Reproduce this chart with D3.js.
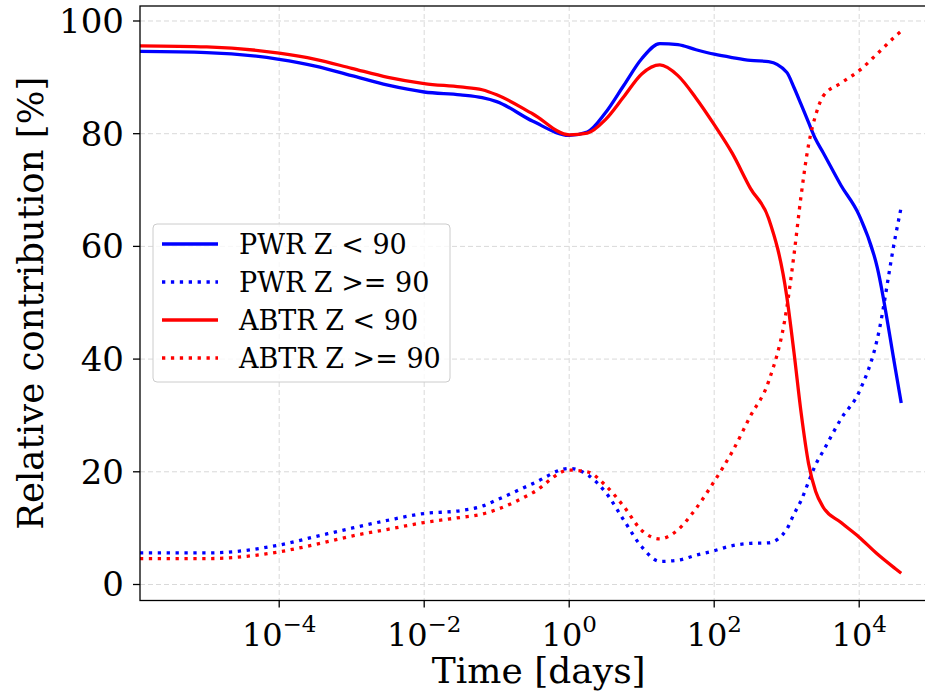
<!DOCTYPE html>
<html lang="en">
  <head>
    <meta charset="UTF-8" />
    <script src="https://cdnjs.cloudflare.com/ajax/libs/d3/7.8.5/d3.min.js"></script>
    <title>Relative contribution</title>
    <style>
      body {
        margin: 0;
        background: white;
      }
      text {
        font-family: "DejaVu Serif", serif;
        fill: #000;
      }
      .grid line {
        stroke: #d9d9d9;
        stroke-width: 1;
        stroke-dasharray: 5, 3;
      }
      .series {
        fill: none;
        stroke-width: 3.3;
      }
      .dotted {
        stroke-dasharray: 3.3, 5.6;
      }
    </style>
  </head>
  <body>
    <script>
      // time in days (log axis)
      const days = [
        1.2e-6, 1e-5, 1e-4, 3.16e-4, 1e-3, 3.16e-3, 1e-2, 3.16e-2, 6.3e-2, 0.1,
        0.316, 1, 1.78, 3.16, 5.62, 10, 17.8, 31.6, 56.2, 100, 178, 316, 562,
        1000, 1260, 1580, 2000, 2510, 3160, 5620, 1e4, 1.78e4, 3.16e4, 3.8e4,
      ];
      const pwrLow = [
        94.6, 94.4, 93.2, 92.0, 90.3, 88.6, 87.4, 86.9, 86.4, 85.7, 82.2, 79.7,
        80.3, 83.7, 88.5, 93.3, 96.0, 95.8, 94.9, 94.1, 93.5, 93.0, 92.8, 90.9,
        88.2, 85.2, 82.0, 79.0, 76.7, 70.8, 65.5, 56.2, 38.2, 32.2,
      ];
      const pwrHigh = [
        5.6, 5.6, 7.0, 8.5, 10.0, 11.4, 12.6, 13.1, 13.9, 15.0, 17.9, 20.6,
        19.5, 16.4, 11.5, 6.7, 4.1, 4.3, 5.2, 6.0, 6.9, 7.3, 7.4, 9.8, 12.5,
        14.9, 18.2, 21.3, 23.6, 29.4, 34.2, 43.6, 61.8, 67.0,
      ];
      const abtrLow = [
        95.6, 95.4, 94.3, 93.2, 91.6, 90.0, 88.9, 88.3, 87.8, 86.9, 83.5, 79.8,
        80.1, 82.5, 86.5, 90.6, 92.2, 90.3, 86.3, 81.6, 76.5, 70.3, 65.0, 51.2,
        41.2, 30.5, 21.5, 16.5, 13.8, 11.0, 8.4, 5.4, 2.8, 2.0,
      ];
      const abtrHigh = [
        4.6, 4.6, 5.8, 7.1, 8.6, 9.8, 11.0, 11.9, 12.5, 13.3, 16.3, 20.3, 20.0,
        17.6, 13.9, 9.6, 8.1, 9.7, 13.5, 18.3, 23.6, 29.9, 36.0, 49.0, 58.5,
        69.0, 78.0, 83.3, 86.6, 89.0, 91.2, 94.2, 97.3, 98.2,
      ];
      const yTicks = [0, 20, 40, 60, 80, 100];
      const xTicks = [1e-4, 1e-2, 1, 1e2, 1e4];
      const xTickExp = ["\u22124", "\u22122", "0", "2", "4"];

      const series = [
        { name: "PWR Z < 90", values: pwrLow, color: "#0000ff", dotted: false },
        { name: "PWR Z >= 90", values: pwrHigh, color: "#0000ff", dotted: true },
        { name: "ABTR Z < 90", values: abtrLow, color: "#ff0000", dotted: false },
        { name: "ABTR Z >= 90", values: abtrHigh, color: "#ff0000", dotted: true },
      ];

      const width = 925,
        height = 692;
      const plotLeft = 140,
        plotRight = 937.5,
        plotTop = 6,
        plotBottom = 600.5;

      const svg = d3
        .select("body")
        .append("svg")
        .attr("width", width)
        .attr("height", height);

      const x = d3
        .scaleLog()
        .domain([Math.pow(10, -5.92), Math.pow(10, 5.08)])
        .range([plotLeft, plotRight]);
      const y = d3
        .scaleLinear()
        .domain([-2.84, 102.66])
        .range([plotBottom, plotTop]);

      svg
        .append("clipPath")
        .attr("id", "plot")
        .append("rect")
        .attr("x", plotLeft)
        .attr("y", plotTop)
        .attr("width", plotRight - plotLeft)
        .attr("height", plotBottom - plotTop);

      // grid
      const grid = svg.append("g").attr("class", "grid");
      grid
        .selectAll(".gx")
        .data(xTicks)
        .enter()
        .append("line")
        .attr("x1", (d) => x(d))
        .attr("x2", (d) => x(d))
        .attr("y1", plotTop)
        .attr("y2", plotBottom);
      grid
        .selectAll(".gy")
        .data(yTicks)
        .enter()
        .append("line")
        .attr("x1", plotLeft)
        .attr("x2", plotRight)
        .attr("y1", (d) => y(d))
        .attr("y2", (d) => y(d));

      // curves
      const line = d3
        .line()
        .x((d, i) => x(days[i]))
        .y((d) => y(d))
        .curve(d3.curveMonotoneX);

      svg
        .append("g")
        .attr("clip-path", "url(#plot)")
        .selectAll("path")
        .data(series)
        .enter()
        .append("path")
        .attr("class", (d) => (d.dotted ? "series dotted" : "series"))
        .attr("stroke", (d) => d.color)
        .attr("d", (d) => line(d.values));

      // frame
      svg
        .append("rect")
        .attr("x", plotLeft)
        .attr("y", plotTop)
        .attr("width", plotRight - plotLeft)
        .attr("height", plotBottom - plotTop)
        .attr("fill", "none")
        .attr("stroke", "#000")
        .attr("stroke-width", 1.3);

      // y axis ticks
      const yAxis = svg.append("g");
      yAxis
        .selectAll("line")
        .data(yTicks)
        .enter()
        .append("line")
        .attr("x1", plotLeft - 7)
        .attr("x2", plotLeft)
        .attr("y1", (d) => y(d))
        .attr("y2", (d) => y(d))
        .attr("stroke", "#000")
        .attr("stroke-width", 1.3);
      yAxis
        .selectAll("text")
        .data(yTicks)
        .enter()
        .append("text")
        .attr("x", plotLeft - 16)
        .attr("y", (d) => y(d) + 12)
        .attr("text-anchor", "end")
        .style("font-size", "34px")
        .text((d) => d);

      // x axis ticks
      const xAxis = svg.append("g");
      xAxis
        .selectAll("line")
        .data(xTicks)
        .enter()
        .append("line")
        .attr("x1", (d) => x(d))
        .attr("x2", (d) => x(d))
        .attr("y1", plotBottom)
        .attr("y2", plotBottom + 7)
        .attr("stroke", "#000")
        .attr("stroke-width", 1.3);
      const xLabels = xAxis
        .selectAll("text")
        .data(xTicks)
        .enter()
        .append("text")
        .attr("x", (d) => x(d))
        .attr("y", plotBottom + 45)
        .attr("text-anchor", "middle")
        .style("font-size", "32px");
      xLabels.append("tspan").text("10");
      xLabels
        .append("tspan")
        .attr("dy", -14)
        .style("font-size", "23px")
        .text((d, i) => xTickExp[i]);

      // axis titles
      svg
        .append("text")
        .attr("x", (plotLeft + plotRight) / 2)
        .attr("y", 683)
        .attr("text-anchor", "middle")
        .style("font-size", "36px")
        .text("Time [days]");
      svg
        .append("text")
        .attr(
          "transform",
          `translate(43,${(plotTop + plotBottom) / 2}) rotate(-90)`
        )
        .attr("text-anchor", "middle")
        .style("font-size", "35.5px")
        .text("Relative contribution [%]");

      // legend
      const legend = svg.append("g");
      legend
        .append("rect")
        .attr("x", 153)
        .attr("y", 224)
        .attr("width", 297)
        .attr("height", 158)
        .attr("rx", 4)
        .attr("fill", "white")
        .attr("fill-opacity", 0.8)
        .attr("stroke", "#cccccc")
        .attr("stroke-width", 1);
      const rows = legend
        .selectAll(".row")
        .data(series)
        .enter()
        .append("g")
        .attr("transform", (d, i) => `translate(0,${244 + i * 38})`);
      rows
        .append("line")
        .attr("x1", 162)
        .attr("x2", 218)
        .attr("class", (d) => (d.dotted ? "series dotted" : "series"))
        .attr("stroke", (d) => d.color);
      rows
        .append("text")
        .attr("x", 239)
        .attr("y", 10)
        .style("font-size", "27px")
        .text((d) => d.name);
    </script>
  </body>
</html>
